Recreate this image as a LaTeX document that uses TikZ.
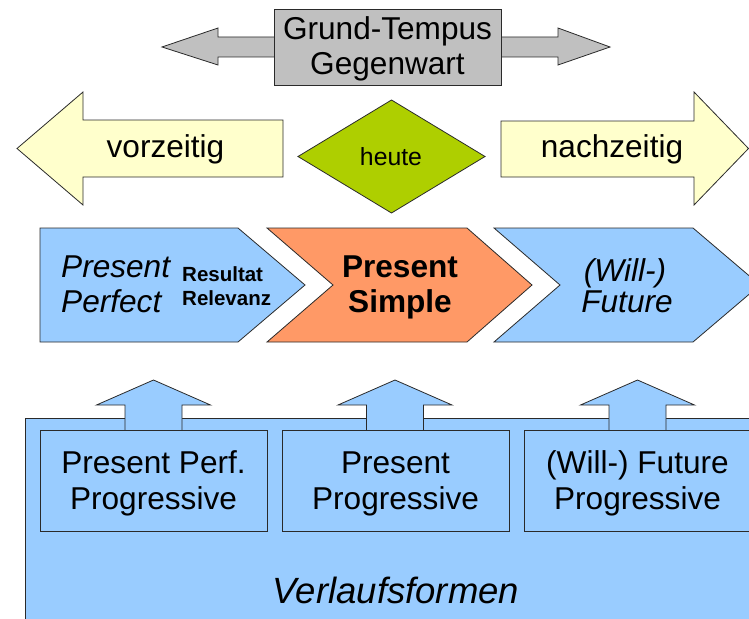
\documentclass[tikz,border=0pt]{standalone}
\usepackage{fontspec}
\setmainfont{Liberation Sans}
\definecolor{cgray}{HTML}{C0C0C0}
\definecolor{cyel}{HTML}{FFFFCC}
\definecolor{cgreen}{HTML}{AECF00}
\definecolor{cblue}{HTML}{99CCFF}
\definecolor{corange}{HTML}{FF9966}
\definecolor{cline}{HTML}{2A2A2A}
\tikzset{
  outl/.style={draw=cline, line width=0.8pt, line join=miter},
  lbl/.style={inner sep=0pt, anchor=base, font=\fontsize{31.6}{35}\selectfont},
  lblw/.style={inner sep=0pt, anchor=base west, font=\fontsize{31.6}{35}\selectfont},
  small/.style={inner sep=0pt, anchor=base west, font=\fontsize{20.5}{24}\selectfont\bfseries},
}
\begin{document}
\begin{tikzpicture}[x=1pt,y=-1pt]
\useasboundingbox (0,0) rectangle (749,618);
\clip (0,0) rectangle (749,618);
% top gray double arrow
\path[outl, fill=cgray] (162,47) -- (218,28) -- (218,37) -- (558,37) -- (558,28) -- (610,47)
  -- (558,65) -- (558,57) -- (218,57) -- (218,65) -- cycle;
\path[outl, fill=cgray] (274,9) rectangle (501,85);
\node[lbl] (gt1) at (387.5,39.5) {Grund-Tempus};
\node[lbl] (gt2) at (387.5,74.5) {Gegenwart};
% row 2
\path[outl, fill=cyel] (17,148.5) -- (83,92) -- (83,120) -- (283,120) -- (283,177) -- (83,177) -- (83,205) -- cycle;
\node[lbl] (vor) at (165.5,157) {vorzeitig};
\path[outl, fill=cgreen] (298,156.5) -- (391.5,100) -- (485,156.5) -- (391.5,213) -- cycle;
\node[lbl, font=\fontsize{24.8}{28}\selectfont] (heute) at (391,165) {heute};
\path[outl, fill=cyel] (501,121) -- (694,121) -- (694,92) -- (748.5,148.5) -- (694,205) -- (694,177) -- (501,177) -- cycle;
\node[lbl] (nach) at (612,157) {nachzeitig};
% row 3 chevrons
\path[outl, fill=cblue] (40,228) -- (238,228) -- (305,285) -- (238,342) -- (40,342) -- cycle;
\node[lblw, font=\fontsize{31.6}{35}\selectfont\itshape] (pp1) at (61,277) {Present};
\node[lblw, font=\fontsize{31.6}{35}\selectfont\itshape] (pp2) at (61,312.5) {Perfect};
\node[small] (res) at (182,281) {Resultat};
\node[small] (rel) at (182,305) {Relevanz};
\path[outl, fill=corange] (267,228) -- (467,228) -- (532,285) -- (467,342) -- (267,342) -- (333,285) -- cycle;
\node[lbl, font=\fontsize{31.6}{35}\selectfont\bfseries] (ps1) at (400,277) {Present};
\node[lbl, font=\fontsize{31.6}{35}\selectfont\bfseries] (ps2) at (400,312.5) {Simple};
\path[outl, fill=cblue] (494,228) -- (693,228) -- (760,285) -- (693,342) -- (494,342) -- (560,285) -- cycle;
\node[lbl, font=\fontsize{31.6}{35}\selectfont\itshape] (wf1) at (625,281) {(Will-)};
\node[lbl, font=\fontsize{31.6}{35}\selectfont\itshape] (wf2) at (627,312.5) {Future};
% bottom area
\path[outl, fill=cblue] (25,418) rectangle (770,640);
\foreach \cx in {153.5,395,637.5}{
  \path[outl, fill=cblue] (\cx,380) -- ({\cx+57},405) -- ({\cx+28.5},405) -- ({\cx+28.5},440)
    -- ({\cx-28.5},440) -- ({\cx-28.5},405) -- ({\cx-57},405) -- cycle;
}
\path[outl, fill=cblue] (40,430) rectangle (267,531);
\path[outl, fill=cblue] (282,430) rectangle (509,531);
\path[outl, fill=cblue] (524,430) rectangle (751,531);
\node[lbl] (b1a) at (153.5,473) {Present Perf.};
\node[lbl] (b1b) at (153.5,509) {Progressive};
\node[lbl] (b2a) at (395.5,473) {Present};
\node[lbl] (b2b) at (395.5,509) {Progressive};
\node[lbl] (b3a) at (637.5,473) {(Will-) Future};
\node[lbl] (b3b) at (637.5,509) {Progressive};
\node[lbl, font=\fontsize{36.5}{40}\selectfont\itshape] (verl) at (396,603) {Verlaufsformen};
\end{tikzpicture}
\end{document}
